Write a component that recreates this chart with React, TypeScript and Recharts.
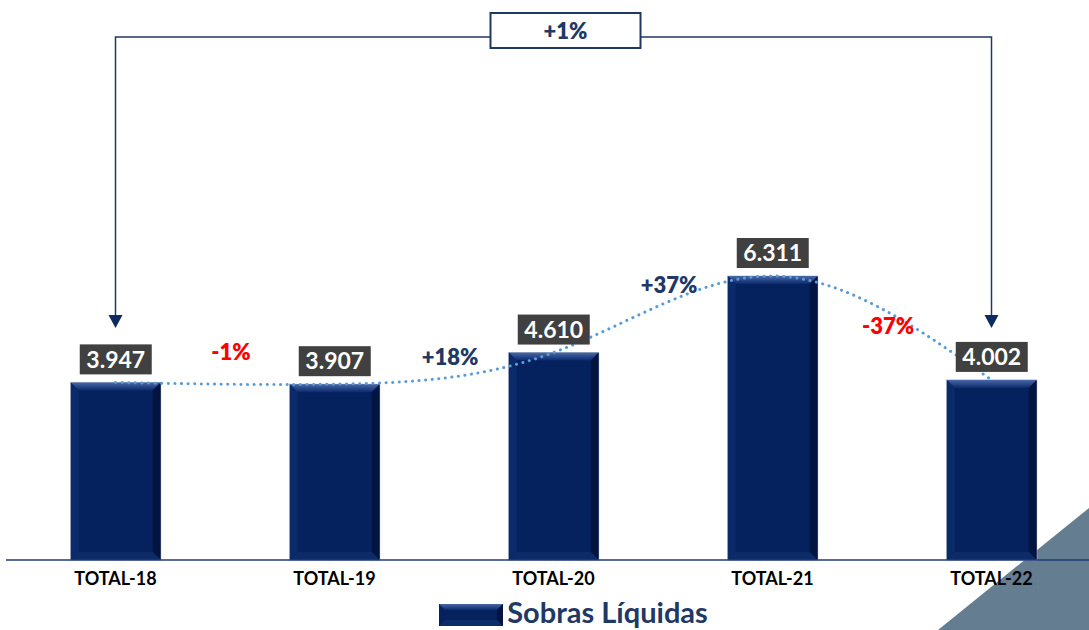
import React from 'react';
import { ComposedChart, Bar, Line, Scatter, XAxis, YAxis, LabelList, ReferenceLine, Legend } from 'recharts';

const categories = ['TOTAL-18', 'TOTAL-19', 'TOTAL-20', 'TOTAL-21', 'TOTAL-22'];
const sobras = [3947, 3907, 4610, 6311, 4002];
const seriesName = 'Sobras Líquidas';

const NAVY = '#1f3864';
const RED = '#ff0000';
const FONT = 'Lato, "Open Sans", sans-serif';

const chartData = categories.map((name, i) => ({ x: i, name, value: sobras[i] }));

// year-over-year change, rounded like the original slide
const growth = sobras.slice(1).map((v, i) => Math.round((v / sobras[i] - 1) * 100));
const totalGrowth = Math.round((sobras[sobras.length - 1] / sobras[0] - 1) * 100);

const pctData = growth.map((g, i) => ({ x: i + 0.5, y: (sobras[i] + sobras[i + 1]) / 2, pct: g, idx: i }));

// how far (px) each % label sits above the midpoint of the two bars
const pctLift = [31, 11, 29, 2];

const fmt = (v: number) => String(v).replace(/\B(?=(\d{3})+(?!\d))/g, '.');
const fmtPct = (p: number) => (p > 0 ? `+${p}%` : `${p}%`);

const BevelBar = (props: any) => {
  const { x, y, width, height, index } = props;
  if (!height || height <= 0) return null;
  const b = 8;
  const id = `bev-${index}`;
  return (
    <g>
      <defs>
        <linearGradient id={id} x1="0" y1="0" x2="0" y2="1">
          <stop offset="0%" stopColor="#4a68a6" />
          <stop offset="100%" stopColor="#0b2a6c" />
        </linearGradient>
      </defs>
      <rect x={x} y={y} width={width} height={height} fill="#05225f" stroke="#c3c8d2" strokeWidth={1} />
      <polygon points={`${x},${y} ${x + width},${y} ${x + width - b},${y + b} ${x + b},${y + b}`} fill={`url(#${id})`} />
      <polygon points={`${x},${y} ${x + b},${y + b} ${x + b},${y + height - b} ${x},${y + height}`} fill="#0a2a6a" />
      <polygon points={`${x + width},${y} ${x + width - b},${y + b} ${x + width - b},${y + height - b} ${x + width},${y + height}`} fill="#021540" />
      <polygon points={`${x},${y + height} ${x + b},${y + height - b} ${x + width - b},${y + height - b} ${x + width},${y + height}`} fill="#0d2b66" />
    </g>
  );
};

const ValueBox = (props: any) => {
  const { x, y, width, value } = props;
  const cx = x + width / 2;
  const w = 72;
  const h = 30;
  const top = y - 8 - h;
  return (
    <g>
      <rect x={cx - w / 2} y={top} width={w} height={h} fill="#404040" />
      <text x={cx} y={top + h / 2} dy="0.36em" textAnchor="middle" fill="#fff" fontFamily={FONT} fontWeight={700} fontSize={23}>
        {fmt(value)}
      </text>
    </g>
  );
};

const PctLabel = (props: any) => {
  const { cx, cy, payload } = props;
  if (cx == null || cy == null || !payload) return null;
  return (
    <text x={cx + 6} y={cy - pctLift[payload.idx]} dy="0.35em" textAnchor="middle" fill={payload.pct < 0 ? RED : NAVY} fontFamily={FONT} fontWeight={800} fontSize={22}>
      {fmtPct(payload.pct)}
    </text>
  );
};

const Bracket = (props: any) => {
  const { x1, y1, x2, y2 } = props;
  const top = 37;
  const tip = Math.min(y1, y2) - 52;
  const mid = (x1 + x2) / 2 + 12;
  const bw = 150;
  return (
    <g>
      <polyline points={`${x1},${tip - 12} ${x1},${top} ${mid - bw / 2},${top}`} fill="none" stroke={NAVY} strokeWidth={1.5} />
      <polyline points={`${mid + bw / 2},${top} ${x2},${top} ${x2},${tip - 12}`} fill="none" stroke={NAVY} strokeWidth={1.5} />
      <polygon points={`${x1 - 7},${tip - 13} ${x1 + 7},${tip - 13} ${x1},${tip}`} fill="#0e2a5e" />
      <polygon points={`${x2 - 7},${tip - 13} ${x2 + 7},${tip - 13} ${x2},${tip}`} fill="#0e2a5e" />
      <rect x={mid - bw / 2} y={13} width={bw} height={35} fill="#fff" stroke={NAVY} strokeWidth={2} />
      <text x={mid} y={31} dy="0.35em" textAnchor="middle" fill={NAVY} fontFamily={FONT} fontWeight={800} fontSize={22}>
        {fmtPct(totalGrowth)}
      </text>
    </g>
  );
};

const LegendContent = () => (
  <div style={{ height: 30, display: 'flex', alignItems: 'center', justifyContent: 'center', paddingLeft: 40 }}>
    <svg width={64} height={22}>
      <defs>
        <linearGradient id="legBev" x1="0" y1="0" x2="0" y2="1">
          <stop offset="0%" stopColor="#4a68a6" />
          <stop offset="100%" stopColor="#0b2a6c" />
        </linearGradient>
      </defs>
      <rect x={0} y={0} width={64} height={22} fill="#05225f" />
      <polygon points="0,0 64,0 58,6 6,6" fill="url(#legBev)" />
      <polygon points="64,0 58,6 58,16 64,22" fill="#021540" />
      <polygon points="0,22 6,16 58,16 64,22" fill="#0d2b66" />
    </svg>
    <span style={{ fontFamily: FONT, fontWeight: 700, fontSize: 29, color: NAVY, marginLeft: 4, lineHeight: '30px', position: 'relative', top: -3 }}>{seriesName}</span>
  </div>
);

export default function App() {
  return (
    <div style={{ position: 'absolute', left: 0, top: 0, width: 1089, height: 630, overflow: 'hidden', background: '#fff' }}>
      <svg width={1089} height={630} style={{ position: 'absolute', left: 0, top: 0 }}>
        <polygon points="1089,508 1089,630 938,630" fill="#657d90" />
      </svg>
      <div style={{ position: 'absolute', left: 0, top: 0 }}>
        <ComposedChart width={1102} height={630} data={chartData} margin={{ top: 20, right: 1, bottom: 0, left: 6 }}>
          <XAxis
            type="number"
            dataKey="x"
            domain={[-0.5, 4.5]}
            ticks={[0, 1, 2, 3, 4]}
            interval={0}
            tickFormatter={(v: number) => categories[v] ?? ''}
            tickLine={false}
            tickMargin={6}
            height={40}
            axisLine={{ stroke: '#1f3b7a', strokeWidth: 1.5 }}
            tick={{ fill: '#000', fontFamily: FONT, fontWeight: 700, fontSize: 18 }}
          />
          <YAxis hide domain={[0, 12000]} />
          <Bar dataKey="value" name={seriesName} barSize={90} shape={BevelBar} isAnimationActive={false}>
            <LabelList dataKey="value" content={ValueBox} />
          </Bar>
          <Line
            type="natural"
            dataKey="value"
            stroke="#5b9bd5"
            strokeWidth={3}
            strokeDasharray="0.1 6.5"
            strokeLinecap="round"
            dot={false}
            activeDot={false}
            legendType="none"
            isAnimationActive={false}
          />
          <Scatter data={pctData} dataKey="y" shape={PctLabel} legendType="none" isAnimationActive={false} />
          <ReferenceLine
            segment={[{ x: 0, y: sobras[0] }, { x: 4, y: sobras[4] }]}
            ifOverflow="visible"
            shape={Bracket}
          />
          <Legend verticalAlign="bottom" height={30} content={LegendContent} />
        </ComposedChart>
      </div>
    </div>
  );
}
